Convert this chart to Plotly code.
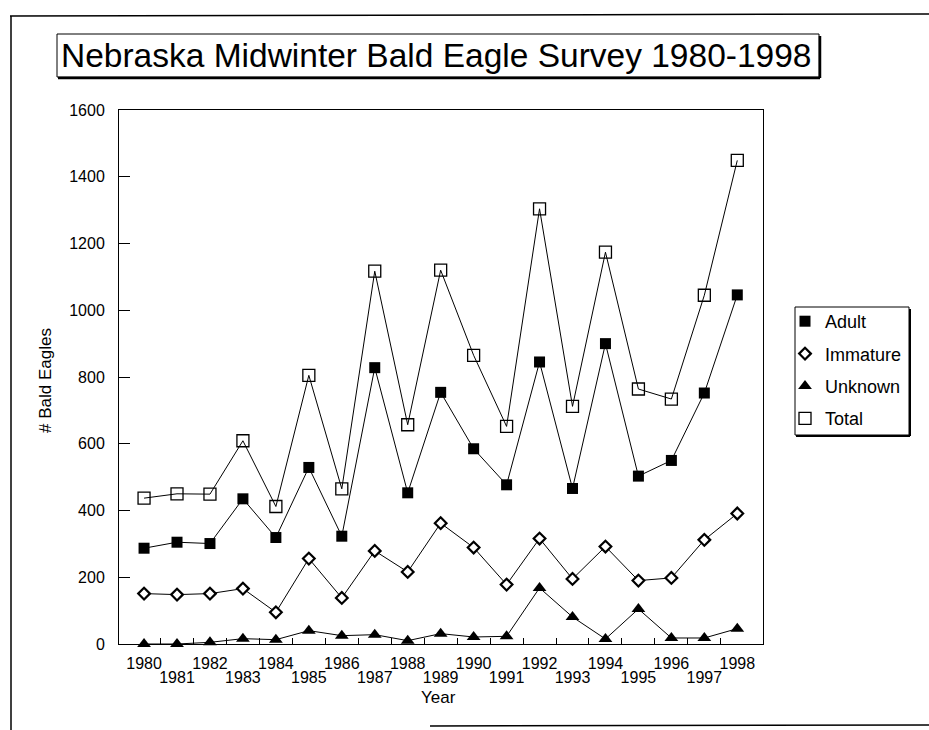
import plotly.graph_objects as go

# ---------------- data ----------------
years = list(range(1980, 1999))
adult = [287, 305, 301, 435, 319, 529, 323, 828, 453, 754, 585, 477, 845, 466, 900, 503, 550, 752, 1046]
immature = [151, 148, 151, 166, 95, 256, 138, 279, 216, 362, 289, 178, 316, 195, 292, 190, 198, 312, 391]
unknown = [0, 0, 5, 16, 13, 40, 25, 28, 10, 31, 21, 23, 168, 81, 15, 105, 18, 18, 46]
total = [437, 450, 449, 609, 412, 805, 465, 1117, 657, 1120, 865, 652, 1304, 712, 1174, 764, 734, 1045, 1449]
y_ticks = [0, 200, 400, 600, 800, 1000, 1200, 1400, 1600]
title_text = "Nebraska Midwinter Bald Eagle Survey 1980-1998"

# ---------------- geometry helpers (pixels -> paper) ----------------
W, H = 929, 730
L, R, T, B = 119, 166, 110, 86
PW, PH = W - L - R, H - T - B


def px(x):
    return (x - L) / PW


def py(y):
    return (H - B - y) / PH


FONT = "Arial, Liberation Sans, Helvetica, sans-serif"
even_years = [y for y in years if y % 2 == 0]
odd_years = [y for y in years if y % 2 == 1]
xr = [1979.24, 1998.78]

fig = go.Figure()

series = [
    ("Adult", adult, dict(symbol="square", size=11, color="black")),
    ("Immature", immature, dict(symbol="diamond", size=9, color="white", line=dict(color="black", width=2.2))),
    ("Unknown", unknown, dict(symbol="triangle-up", size=12, color="black")),
    ("Total", total, dict(symbol="square-open", size=12, color="black", line=dict(width=1.3))),
]

for name, vals, mk in series:
    fig.add_trace(go.Scatter(
        x=years, y=vals, mode="lines+markers", name=name,
        line=dict(color="black", width=1), marker=mk,
        showlegend=False, cliponaxis=False,
    ))

for i, (name, vals, mk) in enumerate(series):
    fig.add_trace(go.Scatter(
        x=[None], y=[None], mode="markers", name=name, marker=mk,
        showlegend=True, legendgroup=f"g{i}",
    ))

# helper trace for the odd-year label axis
fig.add_trace(go.Scatter(x=odd_years, y=[None] * len(odd_years), xaxis="x2",
                         showlegend=False, hoverinfo="skip", mode="markers"))

shapes = []
# page border (scan frame)
shapes.append(dict(type="line", xref="paper", yref="paper", x0=px(11), x1=px(11), y0=py(16), y1=py(730),
                   line=dict(color="black", width=1.5)))
shapes.append(dict(type="line", xref="paper", yref="paper", x0=px(10), x1=px(929), y0=py(16), y1=py(14),
                   line=dict(color="black", width=1.5)))
shapes.append(dict(type="line", xref="paper", yref="paper", x0=px(430), x1=px(929), y0=py(726), y1=py(725),
                   line=dict(color="black", width=1.5)))
# title box with shadow
shapes.append(dict(type="rect", xref="paper", yref="paper", x0=px(57), x1=px(819), y0=py(77), y1=py(34),
                   line=dict(color="black", width=1), fillcolor="white", layer="below"))
shapes.append(dict(type="line", xref="paper", yref="paper", x0=px(58), x1=px(820), y0=py(78), y1=py(78),
                   line=dict(color="black", width=2.5)))
shapes.append(dict(type="line", xref="paper", yref="paper", x0=px(820), x1=px(820), y0=py(36), y1=py(78),
                   line=dict(color="black", width=2.5)))
# legend box with shadow
shapes.append(dict(type="rect", xref="paper", yref="paper", x0=px(795), x1=px(909), y0=py(435), y1=py(307),
                   line=dict(color="black", width=1), fillcolor="white", layer="below"))
shapes.append(dict(type="line", xref="paper", yref="paper", x0=px(796), x1=px(910), y0=py(436), y1=py(436),
                   line=dict(color="black", width=2)))
shapes.append(dict(type="line", xref="paper", yref="paper", x0=px(910), x1=px(910), y0=py(309), y1=py(436),
                   line=dict(color="black", width=2)))

annotations = [
    dict(text=title_text, xref="paper", yref="paper", x=px(436), y=py(56), xanchor="center", yanchor="middle",
         showarrow=False, font=dict(family=FONT, size=33.5, color="black")),
    dict(text="# Bald Eagles", xref="paper", yref="paper", x=px(45), y=py(381), xanchor="center",
         yanchor="middle", textangle=-90, showarrow=False, font=dict(family=FONT, size=17, color="black")),
    dict(text="Year", xref="paper", yref="paper", x=px(438), y=py(697), xanchor="center", yanchor="middle",
         showarrow=False, font=dict(family=FONT, size=17, color="black")),
]

fig.update_layout(
    width=W, height=H,
    margin=dict(l=L, r=R, t=T, b=B, autoexpand=False),
    paper_bgcolor="white", plot_bgcolor="white",
    font=dict(family=FONT, size=16, color="black"),
    showlegend=True,
    legend=dict(x=px(785), y=py(303), xanchor="left", yanchor="top", bgcolor="rgba(0,0,0,0)",
                borderwidth=0, font=dict(family=FONT, size=18, color="black"),
                tracegroupgap=6, traceorder="grouped"),
    xaxis=dict(range=xr, tickmode="array", tickvals=even_years, ticktext=[str(y) for y in even_years],
               ticks="", showgrid=False, zeroline=False, showline=True, mirror=True,
               linecolor="black", linewidth=1, ticklabelstandoff=5,
               tickfont=dict(family=FONT, size=16, color="black"),
               minor=dict(tickmode="array", tickvals=[y + 0.5 for y in years[:-1]], ticks="inside",
                          ticklen=6, tickcolor="black", tickwidth=1, showgrid=False)),
    xaxis2=dict(range=xr, overlaying="x", anchor="y", side="bottom", tickmode="array",
                tickvals=odd_years, ticktext=[str(y) for y in odd_years], ticks="", showgrid=False,
                zeroline=False, showline=False, ticklabelstandoff=22,
                tickfont=dict(family=FONT, size=16, color="black")),
    yaxis=dict(range=[0, 1600], tickmode="array", tickvals=y_ticks, ticktext=[str(v) for v in y_ticks],
               ticks="inside", ticklen=11, tickcolor="black", showgrid=False, zeroline=False,
               showline=True, mirror=True, linecolor="black", linewidth=1, ticklabelstandoff=10,
               tickfont=dict(family=FONT, size=16, color="black")),
    shapes=shapes,
    annotations=annotations,
)

fig.write_html("out.html", config={"displayModeBar": False},
               post_script="document.body.style.margin='0';document.body.style.overflow='hidden';")
